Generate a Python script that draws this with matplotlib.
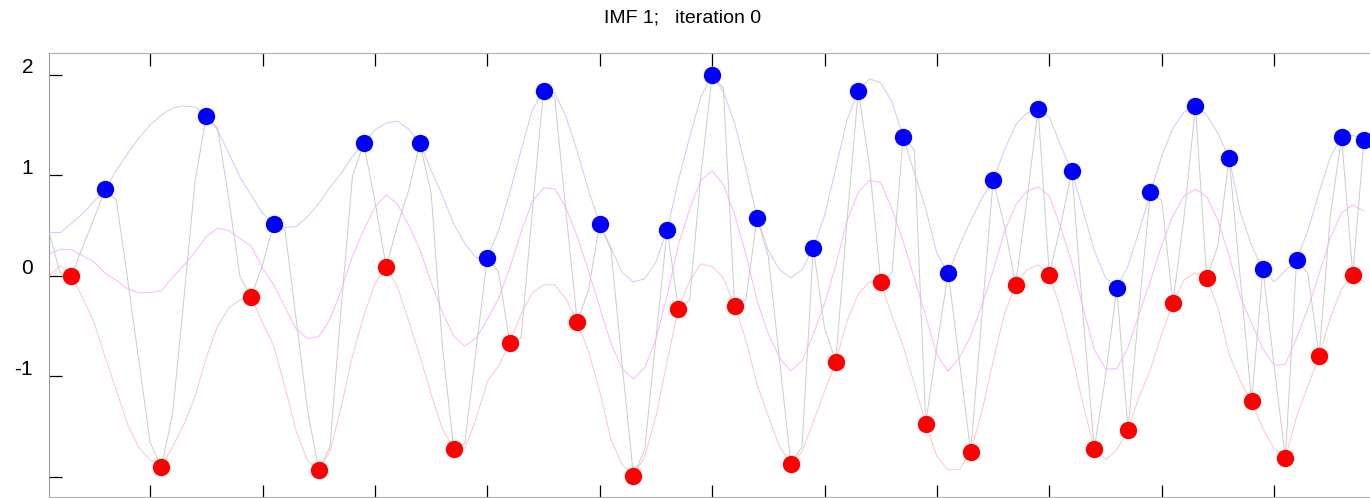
import matplotlib
matplotlib.use("Agg")
import matplotlib.pyplot as plt
from matplotlib.transforms import ScaledTranslation

plt.rcParams['font.family'] = ['Liberation Sans', 'DejaVu Sans']

# signal samples (one per sample index 0..117)
signal = [0.44, 0.02, 0.00, 0.29, 0.57, 0.86, 0.75, -0.04, -0.85, -1.66,
          -1.90, -1.37, -0.23, 0.95, 1.59, 1.47, 0.76, -0.01, -0.21, 0.11,
          0.52, 0.455, -0.44, -1.34, -1.93, -1.70, -0.31, 0.99, 1.32, 0.74,
          0.09, 0.50, 0.85, 1.32, 0.82, -0.70, -1.72, -1.67, -0.73, 0.18,
          0.04, -0.67, -0.62, 0.64, 1.84, 1.77, 0.63, -0.46, -0.14, 0.52,
          0.26, -0.89, -1.99, -1.73, -0.62, 0.46, -0.33, -0.24, 1.00, 2.00,
          1.87, -0.30, -0.24, 0.58, 0.19, -0.84, -1.87, -1.70, 0.28, -0.52,
          -0.855, 0.55, 1.84, 1.10, -0.06, 0.03, 1.38, 1.25, -1.47, -0.70,
          0.03, -0.85, -1.75, -0.40, 0.95, 0.50, -0.09, 0.75, 1.66, 0.01,
          0.50, 1.04, -0.40, -1.72, -1.00, -0.12, -1.53, -0.30, 0.83, 0.75,
          -0.27, 0.60, 1.69, -0.02, 0.30, 1.17, -0.04, -1.25, 0.065, -0.90,
          -1.81, 0.157, 0.025, -0.80, 0.60, 1.38, 0.01, 1.35]

upper_env = [0.43, 0.43, 0.52, 0.62, 0.74, 0.86, 1.05, 1.22, 1.37, 1.50,
             1.60, 1.67, 1.69, 1.68, 1.59, 1.45, 1.22, 0.98, 0.80, 0.62,
             0.52, 0.48, 0.49, 0.59, 0.72, 0.88, 1.02, 1.19, 1.32, 1.45,
             1.52, 1.54, 1.46, 1.32, 1.05, 0.80, 0.52, 0.32, 0.18, 0.18,
             0.45, 0.83, 1.25, 1.65, 1.84, 1.82, 1.58, 1.24, 0.85, 0.52,
             0.28, 0.03, -0.06, -0.03, 0.14, 0.46, 0.95, 1.38, 1.78, 2.00,
             1.83, 1.52, 1.07, 0.58, 0.25, 0.06, -0.02, 0.06, 0.28, 0.60,
             1.07, 1.55, 1.84, 1.96, 1.92, 1.73, 1.38, 1.02, 0.67, 0.22,
             0.03, 0.30, 0.55, 0.77, 0.95, 1.25, 1.50, 1.62, 1.66, 1.58,
             1.30, 1.04, 0.65, 0.25, -0.02, -0.12, 0.10, 0.45, 0.83, 1.19,
             1.47, 1.63, 1.69, 1.60, 1.42, 1.17, 0.63, 0.30, 0.065, -0.06,
             0.05, 0.157, 0.45, 0.83, 1.18, 1.38, 1.40, 1.35]

lower_env = [0.00, 0.10, 0.00, -0.22, -0.46, -0.81, -1.14, -1.48, -1.71, -1.83,
             -1.90, -1.70, -1.48, -1.20, -0.81, -0.50, -0.32, -0.24, -0.21, -0.47,
             -0.70, -1.11, -1.55, -1.84, -1.93, -1.75, -1.30, -0.80, -0.40, -0.08,
             0.09, -0.11, -0.45, -0.80, -1.18, -1.52, -1.72, -1.72, -1.42, -1.05,
             -0.90, -0.67, -0.38, -0.17, -0.09, -0.09, -0.23, -0.46, -0.75, -1.15,
             -1.63, -1.88, -1.99, -1.80, -1.40, -0.85, -0.33, -0.05, 0.12, 0.09,
             -0.02, -0.30, -0.64, -1.08, -1.40, -1.70, -1.87, -1.75, -1.45, -1.15,
             -0.855, -0.45, -0.18, -0.06, -0.06, -0.40, -0.70, -1.08, -1.47, -1.80,
             -1.93, -1.93, -1.75, -1.35, -0.85, -0.38, -0.09, 0.06, 0.11, 0.01,
             -0.33, -0.78, -1.28, -1.72, -1.83, -1.73, -1.53, -1.20, -0.93, -0.58,
             -0.27, -0.04, 0.03, -0.02, -0.32, -0.78, -1.05, -1.25, -1.52, -1.72,
             -1.81, -1.40, -1.10, -0.80, -0.42, -0.13, 0.01, -0.06]

# sample indices of the local maxima / minima
max_idx = [5, 14, 20, 28, 33, 39, 44, 49, 55, 59, 63, 68, 72, 76, 80, 84, 88,
           91, 95, 98, 102, 105, 108, 111, 115, 117]
min_idx = [2, 10, 18, 24, 30, 36, 41, 47, 52, 56, 61, 66, 70, 74, 78, 82, 86,
           89, 93, 96, 100, 103, 107, 110, 113, 116]

ytick_vals = [-2, -1, 0, 1, 2]
ytick_labels = ['', '-1', '0', '1', '2']
xtick_vals = [9, 19, 29, 39, 49, 59, 69, 79, 89, 99, 109]

title = 'IMF 1;   iteration 0'

t = list(range(len(signal)))
mean_env = [(u + l) / 2 for u, l in zip(upper_env, lower_env)]

W, H = 1370, 498
fig = plt.figure(figsize=(W / 100, H / 100), dpi=100)
ax = fig.add_axes([49 / W, 1 / H, 1 - 49 / W, (497 - 53) / H])

ax.plot(t, upper_env, color='#cacaff', lw=0.7, zorder=2)
ax.plot(t, lower_env, color='#ffc4c4', lw=0.7, zorder=2)
ax.plot(t, mean_env, color='#ffb4ff', lw=0.7, zorder=2)
ax.plot(t, signal, color='#cbcbcb', lw=0.7, zorder=3)
ax.plot(max_idx, [signal[i] for i in max_idx], 'o', color='#0000ff',
        markersize=12.5, markeredgewidth=0, zorder=4)
ax.plot(min_idx, [signal[i] for i in min_idx], 'o', color='#ff0000',
        markersize=12.5, markeredgewidth=0, zorder=4)

ax.set_xlim(0, 117.53)
ax.set_ylim(-2.201, 2.217)

ax.spines['right'].set_visible(False)
ax.spines['left'].set_color('#999999')
ax.spines['top'].set_color('#b0b0b0')
ax.spines['bottom'].set_color('#b0b0b0')

ax.set_xticks(xtick_vals)
ax.set_xticklabels([])
ax.tick_params(axis='x', direction='in', length=9, width=0.9, top=True, bottom=True)
ax.set_yticks(ytick_vals)
ax.set_yticklabels(ytick_labels, fontsize=15)
ax.tick_params(axis='y', direction='in', length=9, width=0.9, pad=11.5, right=False)

gray_x = {29, 59, 69, 109}
for tk in ax.xaxis.get_major_ticks():
    c = '#cccccc' if round(tk.get_loc()) in gray_x else 'black'
    tk.tick1line.set_color(c)
    tk.tick2line.set_color(c)
gray_y = {2, -1}
for tk in ax.yaxis.get_major_ticks():
    c = '#cccccc' if round(tk.get_loc()) in gray_y else 'black'
    tk.tick1line.set_color(c)

off = ScaledTranslation(0, 9 / 100, fig.dpi_scale_trans)
for lab in ax.get_yticklabels():
    lab.set_transform(lab.get_transform() + off)

fig.text(682.5 / W, 1 - 18 / H, title, ha='center', va='center', fontsize=14)

fig.savefig('out.png', dpi=100)
